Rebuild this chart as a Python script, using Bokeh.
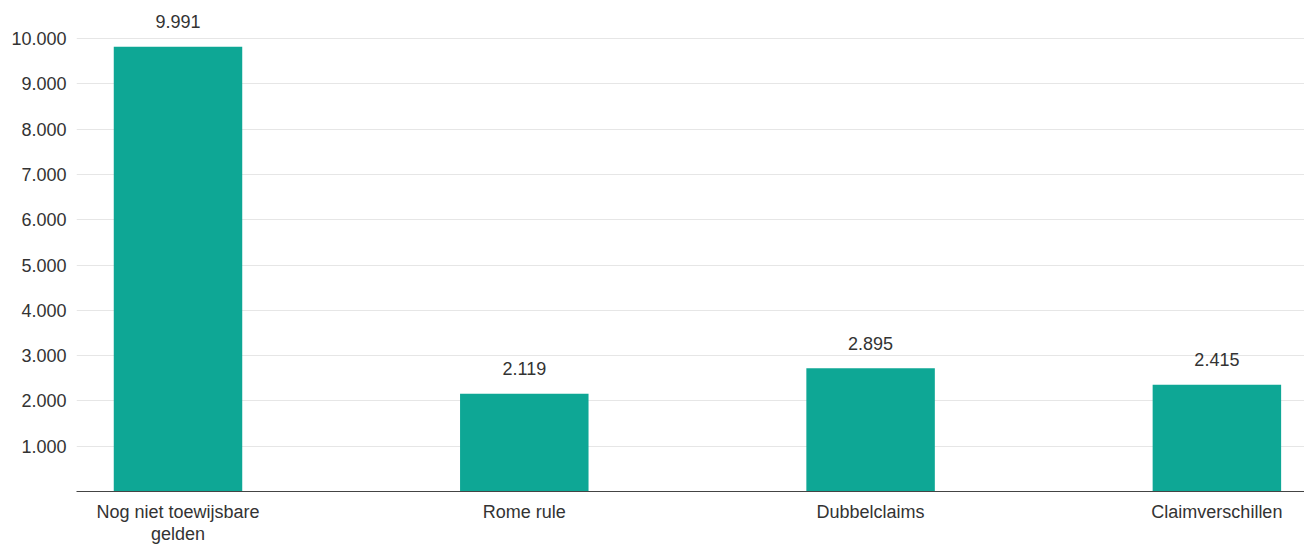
from bokeh.plotting import figure
from bokeh.models import Range1d, FixedTicker, ColumnDataSource
from bokeh.core.properties import value
from bokeh.embed import file_html
from bokeh.resources import INLINE

categories = ["Nog niet toewijsbare\ngelden", "Rome rule", "Dubbelclaims", "Claimverschillen"]
bar_heights = [9820, 2160, 2720, 2360]
value_labels = ["9.991", "2.119", "2.895", "2.415"]
y_ticks = [1000, 2000, 3000, 4000, 5000, 6000, 7000, 8000, 9000, 10000]
y_tick_labels = ["1.000", "2.000", "3.000", "4.000", "5.000", "6.000", "7.000", "8.000", "9.000", "10.000"]

FONT = "Liberation Sans"
TEXT = "#333333"
BAR = "#0ea795"

xs = list(range(len(categories)))
src = ColumnDataSource(dict(x=xs, top=bar_heights, label=value_labels))

p = figure(width=1304, height=546, output_backend="svg", toolbar_location=None,
           x_range=Range1d(-0.2931, 3.2530), y_range=Range1d(0, 10844),
           min_border_left=76, min_border_right=0, min_border_top=0, min_border_bottom=0)
p.outline_line_color = None
p.background_fill_color = "white"

p.vbar(x="x", top="top", width=0.371, bottom=0, source=src, fill_color=BAR, line_color=None)
p.text(x="x", y="top", text="label", source=src, y_offset=-25, text_align="center",
       text_baseline="middle", text_font=value(FONT), text_font_size="18px", text_color=TEXT)

p.xgrid.visible = False
p.ygrid.ticker = FixedTicker(ticks=y_ticks)
p.ygrid.grid_line_color = "#e6e6e6"
p.ygrid.grid_line_width = 1

p.yaxis.ticker = FixedTicker(ticks=y_ticks)
p.yaxis.major_label_overrides = {t: l for t, l in zip(y_ticks, y_tick_labels)}
p.yaxis.axis_line_color = None
p.yaxis.major_tick_line_color = None
p.yaxis.minor_tick_line_color = None
p.yaxis.major_tick_out = 0
p.yaxis.major_label_standoff = 10
p.yaxis.major_label_text_font = FONT
p.yaxis.major_label_text_font_size = "18px"
p.yaxis.major_label_text_color = TEXT

p.xaxis.ticker = FixedTicker(ticks=xs)
p.xaxis.major_label_overrides = {x: c for x, c in zip(xs, categories)}
p.xaxis.axis_line_color = "#444444"
p.xaxis.axis_line_width = 1
p.xaxis.major_tick_line_color = None
p.xaxis.minor_tick_line_color = None
p.xaxis.major_tick_out = 0
p.xaxis.major_tick_in = 0
p.xaxis.major_label_standoff = 10
p.xaxis.major_label_text_font = FONT
p.xaxis.major_label_text_font_size = "18px"
p.xaxis.major_label_text_color = TEXT
p.xaxis.major_label_text_line_height = 1.1

open("out.html", "w").write(file_html(p, INLINE))
